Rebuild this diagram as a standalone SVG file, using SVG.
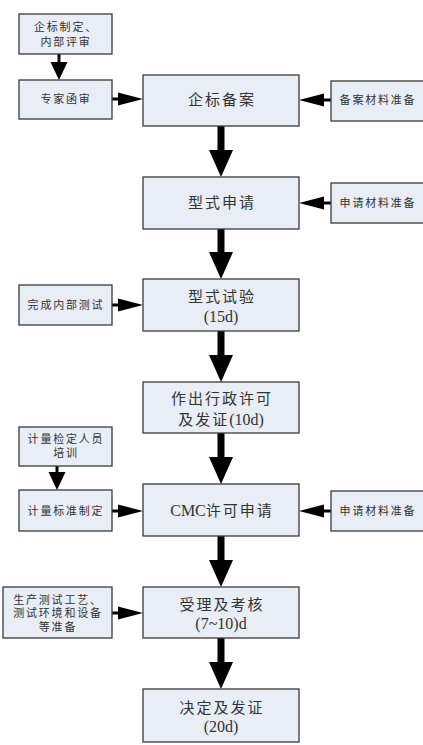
<svg xmlns="http://www.w3.org/2000/svg" width="423" height="745" viewBox="0 0 423 745">
<style>
.box{fill:#e8edf6;stroke:#3a3a3a;stroke-width:1.3}
.big{font-family:"Liberation Serif","Noto Sans CJK SC",serif;font-size:15px;letter-spacing:2px;fill:#333;text-anchor:middle}
.sm{font-family:"Liberation Serif","Noto Sans CJK SC",serif;font-size:11px;letter-spacing:1.8px;fill:#333;text-anchor:middle}
.lat{letter-spacing:0;font-size:16px}
.thin{stroke:#000;stroke-width:3;fill:none}
.thick{stroke:#000;stroke-width:7;stroke-linecap:round;fill:none;marker-end:url(#headBig)}
.h{marker-end:url(#headH)}
.v{marker-end:url(#headV)}
</style>
<defs>
<marker id="headH" markerUnits="userSpaceOnUse" markerWidth="25" markerHeight="13" refX="0" refY="6.5" orient="auto" overflow="visible"><path d="M0,0 L25,6.5 L0,13 Z" fill="#000"/></marker>
<marker id="headV" markerUnits="userSpaceOnUse" markerWidth="18" markerHeight="17" refX="0" refY="8.5" orient="auto" overflow="visible"><path d="M0,0 L18,8.5 L0,17 Z" fill="#000"/></marker>
<marker id="headBig" markerUnits="userSpaceOnUse" markerWidth="27" markerHeight="24" refX="0" refY="12" orient="auto" overflow="visible"><path d="M0,0 L27,12 L0,24 Z" fill="#000"/></marker>
</defs>

<g id="connectors">
<path class="thin v" d="M59,54 V62"/>
<path class="thin v" d="M57,466 V472"/>
<path class="thin h" d="M112,99 H118"/>
<path class="thin h" d="M112,305 H118"/>
<path class="thin h" d="M112,511 H118"/>
<path class="thin h" d="M112,613 H118"/>
<path class="thin h" d="M331,100 H324"/>
<path class="thin h" d="M331,203 H324"/>
<path class="thin h" d="M331,511 H324"/>
<path class="thick" d="M221,126 V150"/>
<path class="thick" d="M221,229 V252"/>
<path class="thick" d="M221,331 V355"/>
<path class="thick" d="M221,433 V457"/>
<path class="thick" d="M221,536 V560"/>
<path class="thick" d="M221,638 V662"/>
</g>

<g id="n-qbzd"><rect class="box" x="19" y="14" width="93" height="40"/><text class="sm" x="66" y="31">企标制定、</text><text class="sm" x="66" y="46"> 内部评审</text></g>
<g id="n-zjhs"><rect class="box" x="19" y="80" width="93" height="39"/><text class="sm" x="66" y="103">专家函审</text></g>
<g id="n-qbba"><rect class="box" x="143" y="75" width="156" height="51"/><text class="big" x="222" y="105">企标备案</text></g>
<g id="n-bacl"><rect class="box" x="331" y="81" width="100" height="40"/><text class="sm" x="378" y="104">备案材料准备</text></g>
<g id="n-xssq"><rect class="box" x="143" y="177" width="156" height="52"/><text class="big" x="222" y="208">型式申请</text></g>
<g id="n-sqcl1"><rect class="box" x="331" y="183" width="100" height="40"/><text class="sm" x="378" y="207">申请材料准备</text></g>
<g id="n-wcnb"><rect class="box" x="19" y="285" width="93" height="40"/><text class="sm" x="66" y="309">完成内部测试</text></g>
<g id="n-xssy"><rect class="box" x="143" y="279" width="156" height="52"/><text class="big" x="222" y="302">型式试验</text><text class="big lat" x="221" y="322">(15d)</text></g>
<g id="n-zcxz"><rect class="box" x="143" y="382" width="156" height="51"/><text class="big" x="222" y="404">作出行政许可</text><text class="big" x="221" y="425">及发证<tspan class="lat">(10d)</tspan></text></g>
<g id="n-jljd"><rect class="box" x="19" y="427" width="93" height="39"/><text class="sm" x="66" y="443">计量检定人员</text><text class="sm" x="66" y="457">培训</text></g>
<g id="n-jlbz"><rect class="box" x="19" y="490" width="93" height="41"/><text class="sm" x="66" y="515">计量标准制定</text></g>
<g id="n-cmc"><rect class="box" x="143" y="484" width="156" height="52"/><text class="big" x="222" y="516"><tspan class="lat">CMC</tspan>许可申请</text></g>
<g id="n-sqcl2"><rect class="box" x="331" y="491" width="100" height="40"/><text class="sm" x="378" y="515">申请材料准备</text></g>
<g id="n-scsc"><rect class="box" x="3" y="587" width="109" height="51"/><text class="sm" x="58" y="604">生产测试工艺、</text><text class="sm" x="58" y="617">测试环境和设备</text><text class="sm" x="58" y="631">等准备</text></g>
<g id="n-sljk"><rect class="box" x="143" y="587" width="156" height="51"/><text class="big" x="222" y="610">受理及考核</text><text class="big lat" x="221" y="629">(7~10)d</text></g>
<g id="n-jdfz"><rect class="box" x="143" y="689" width="156" height="53"/><text class="big" x="222" y="713">决定及发证</text><text class="big lat" x="221" y="732">(20d)</text></g>
</svg>
